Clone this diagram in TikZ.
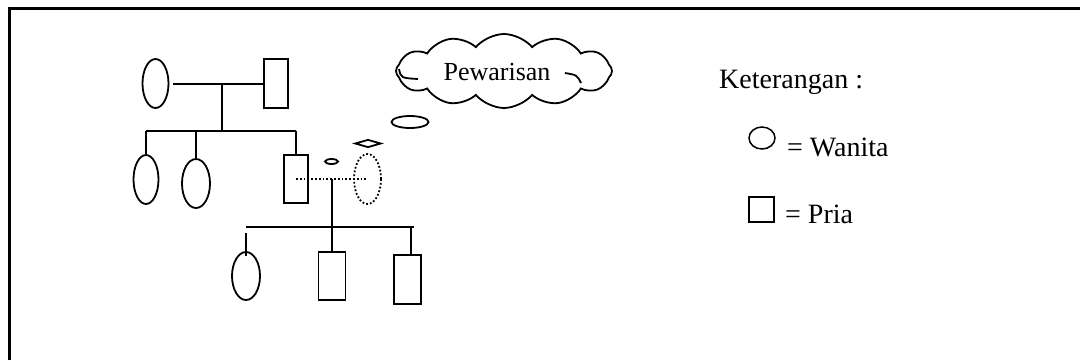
\documentclass[tikz,border=0pt]{standalone}
\usepackage{fontspec}
\setmainfont{Liberation Serif}
\usetikzlibrary{shapes.geometric,shapes.symbols}
\begin{document}
\begin{tikzpicture}[x=1pt,y=-1pt,
  ln/.style={line width=2pt},
  fem/.style={draw, ellipse, line width=1.8pt, inner sep=0pt, minimum width=26pt, minimum height=49pt},
  mal/.style={draw, rectangle, line width=1.8pt, inner sep=0pt, minimum width=25pt, minimum height=49pt},
  bubble/.style={draw, ellipse, line width=1.8pt, inner sep=0pt},
  lbl/.style={inner sep=0pt, anchor=base west, font=\fontsize{26}{30}\selectfont}
]
\useasboundingbox (0,0) rectangle (1080,360);
% frame
\draw[line width=3pt] (9.5,360) -- (9.5,8) -- (1080,8);

% generation 1
\node[fem] (e1) at (155.5,83.5) {};
\node[mal, minimum width=24pt] (r1) at (276,83.5) {};
\coordinate (m1) at (222,83);
\coordinate (s1) at (222,131);
\coordinate (sL) at (146,131);
\coordinate (sM) at (196,131);
\coordinate (sR) at (296,131);
\draw[ln] ([xshift=4pt]e1.east) -- (r1.west);
\draw[ln] (m1) -- (s1);
\draw[ln] (sL) -- (sR);

% generation 2
\node[fem, minimum width=25pt] (e2) at (146,179.5) {};
\node[fem, minimum width=28pt] (e3) at (196,183.5) {};
\node[mal, minimum width=24pt, minimum height=48pt] (r2) at (296,179) {};
\node[fem, dotted, minimum width=27pt, minimum height=50pt] (de) at (367.5,179) {};
\draw[ln] (sL) -- (e2.north);
\draw[ln] (sM) -- (e3.north);
\draw[ln] (sR) -- (r2.north);
\draw[line width=1.8pt, dotted] (r2.center) -- (de.center);

% generation 3
\coordinate (m2) at (332,179);
\coordinate (tL) at (246,227);
\coordinate (tR) at (414,227);
\coordinate (dL) at (246,233);
\coordinate (dR) at (411,227);
\node[fem, minimum width=28pt, minimum height=48pt] (e4) at (246,276) {};
\node[mal, minimum width=27pt, minimum height=48pt] (r3) at (332,276) {};
\node[mal, minimum width=27pt] (r4) at (407.5,279.5) {};
\draw[ln] (m2) -- (r3.north);
\draw[ln] (tL) -- (tR);
\draw[ln] (dL) -- ([yshift=-5pt]e4.north);
\draw[ln] (dR) -- ([xshift=3.5pt]r4.north);

% thought bubbles and cloud
\node[bubble, minimum width=13pt, minimum height=5pt] (b1) at (331.5,161.5) {};
\node[bubble, diamond, aspect=3.7, minimum width=26pt, minimum height=8pt] (b2) at (368,143.5) {};
\node[bubble, minimum width=37pt, minimum height=12pt] (b3) at (410,122) {};
\node[draw, cloud, cloud puffs=12, cloud puff arc=100, cloud ignores aspect,
      line width=1.8pt, minimum width=216pt, minimum height=74pt] (cl) at (504,71) {};
\draw[line width=1.8pt] (399,69) .. controls (401,78) .. (418,79);
\draw[line width=1.8pt] (565,73) .. controls (577,75) .. (581,83);
\node[lbl, anchor=base] (tx) at (497,80) {Pewarisan};

% legend
\node[lbl, font=\fontsize{28}{32}\selectfont] (ket) at (719,88) {Keterangan :};
\node[draw, ellipse, line width=1.5pt, inner sep=0pt, minimum width=26pt, minimum height=22pt] (lc) at (762,138) {};
\node[lbl, font=\fontsize{28}{32}\selectfont] (lw) at (787,156) {= Wanita};
\node[draw, rectangle, line width=1.5pt, inner sep=0pt, minimum width=25pt, minimum height=25pt] (ls) at (761.5,209.5) {};
\node[lbl, font=\fontsize{28}{32}\selectfont] (lp) at (785,223) {= Pria};
\end{tikzpicture}
\end{document}
